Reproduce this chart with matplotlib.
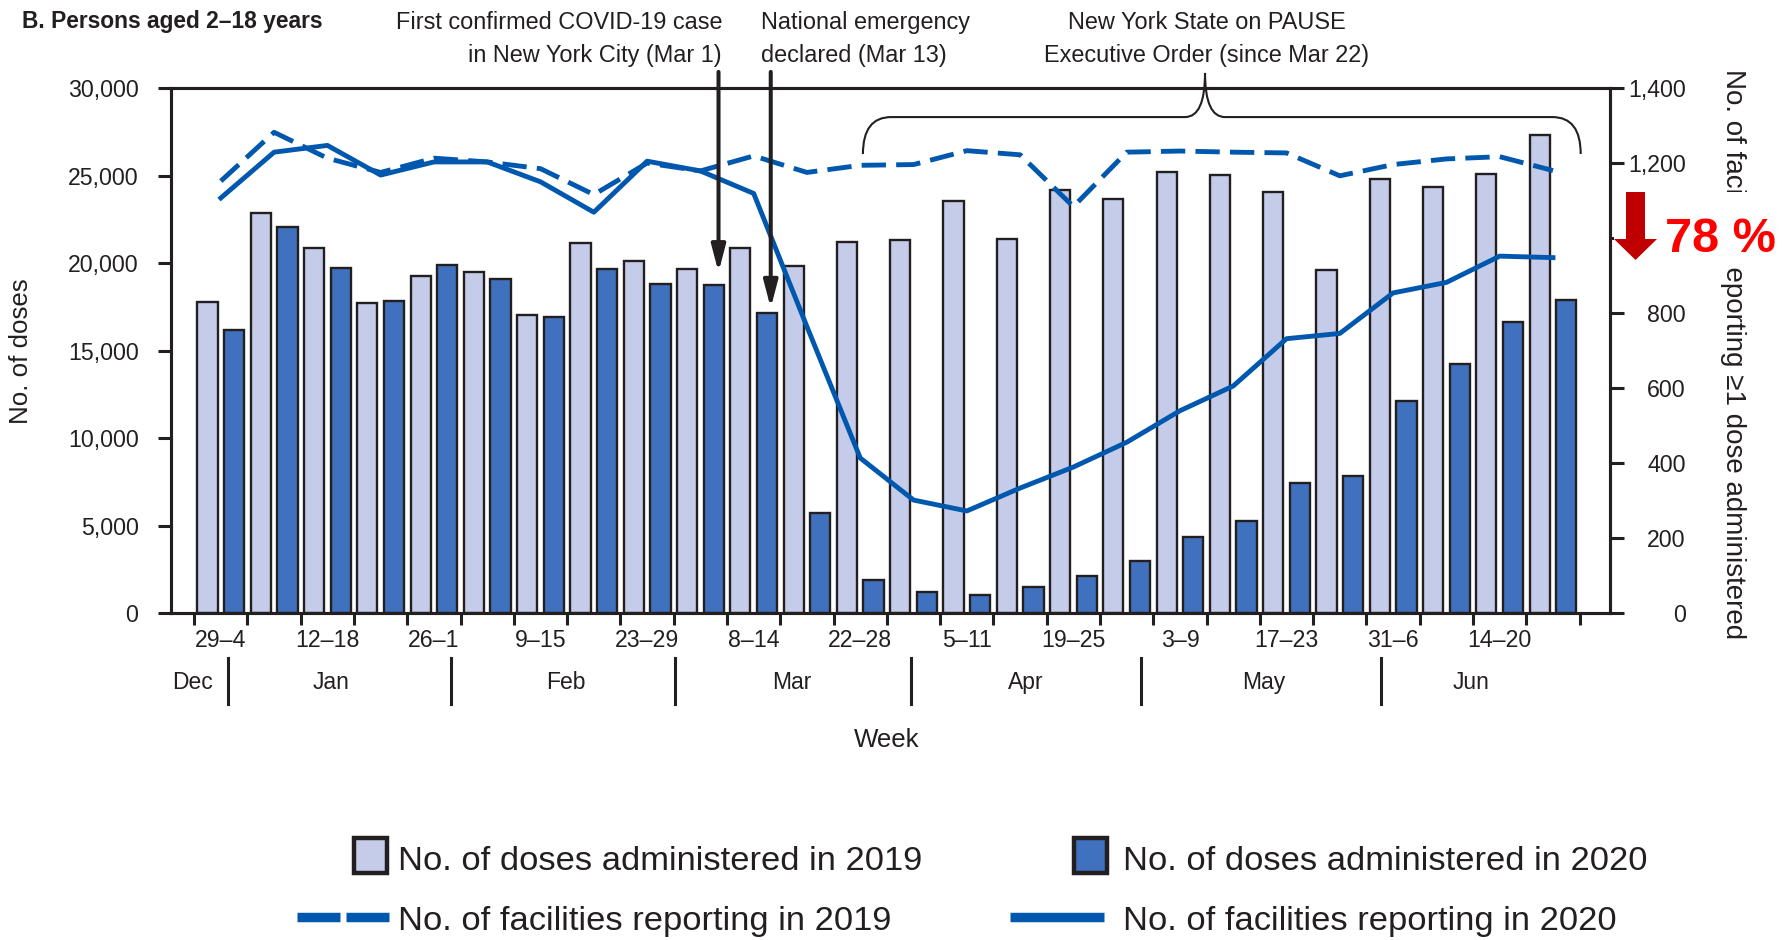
import numpy as np
import matplotlib
matplotlib.use("Agg")
import matplotlib.pyplot as plt
from matplotlib.path import Path
from matplotlib.patches import PathPatch, Rectangle, Polygon
from matplotlib.lines import Line2D
from matplotlib.ticker import FuncFormatter
from matplotlib.transforms import blended_transform_factory

plt.rcParams['font.family'] = ['Liberation Sans', 'DejaVu Sans']

# weeks from Dec 29 to Jun 27
week_labels = ["29–4", "5–11", "12–18", "19–25", "26–1", "2–8", "9–15", "16–22",
               "23–29", "1–7", "8–14", "15–21", "22–28", "29–4", "5–11", "12–18",
               "19–25", "26–2", "3–9", "10–16", "17–23", "24–30", "31–6", "7–13",
               "14–20", "21–27"]

doses_2019 = [17800, 22850, 20850, 17700, 19250, 19470, 17040, 21150, 20110, 19670,
              20870, 19850, 21210, 21310, 23520, 21370, 24180, 23660, 25190, 25050,
              24040, 19610, 24830, 24320, 25090, 27330]
doses_2020 = [16160, 22060, 19750, 17860, 19910, 19070, 16940, 19650, 18800, 18750,
              17140, 5760, 1910, 1200, 1040, 1490, 2150, 2990, 4355, 5300,
              7430, 7830, 12100, 14250, 16640, 17920]

facilities_2019 = [1152, 1282, 1213, 1175, 1213, 1203, 1185, 1116, 1200, 1179,
                   1219, 1175, 1194, 1196, 1233, 1222, 1084, 1229, 1232, 1229,
                   1227, 1166, 1196, 1211, 1217, 1180]
facilities_2020 = [1107, 1229, 1247, 1168, 1203, 1203, 1150, 1069, 1205, 1179,
                   1119, 764, 414, 302, 273, 334, 390, 456, 540, 606,
                   732, 746, 854, 882, 952, 948]

# month row under the week labels (positions in week units)
months = ["Dec", "Jan", "Feb", "Mar", "Apr", "May", "Jun"]
month_centers = [-0.54, 2.07, 6.47, 10.72, 15.11, 19.58, 23.47]
month_breaks = [0.14, 4.32, 8.52, 12.95, 17.27, 21.77]

LIGHT = '#c5cce9'
DARK = '#4071be'
BLUE = '#0058ae'
INK = '#231f20'

W, H = 1791, 940


def fx(px):
    return px / W


def fy(py):
    return 1 - py / H


fig = plt.figure(figsize=(W / 100, H / 100), dpi=100)
ax = fig.add_axes([fx(171), fy(613.4), (1610 - 171) / W, (613.4 - 88) / H])
ax2 = ax.twinx()

x = np.arange(len(week_labels))
ax.bar(x - 0.25, doses_2019, width=0.38, color=LIGHT, edgecolor=INK, linewidth=1.7, zorder=2)
ax.bar(x + 0.25, doses_2020, width=0.38, color=DARK, edgecolor=INK, linewidth=1.7, zorder=2)

ax2.plot(x, facilities_2019, color=BLUE, lw=3.5, dashes=(5, 2.1), zorder=3)
ax2.plot(x, facilities_2020, color=BLUE, lw=3.5, zorder=3)

ax.set_xlim(-0.935, 26.07)
ax.set_ylim(0, 30000)
ax2.set_ylim(0, 1400)

for a in (ax, ax2):
    for s in a.spines.values():
        s.set_linewidth(2.2)
        s.set_color(INK)

# left axis
ax.set_yticks(np.arange(0, 30001, 5000))
ax.yaxis.set_major_formatter(FuncFormatter(lambda v, p: f"{v:,.0f}"))
ax.tick_params(axis='y', direction='out', length=9.4, width=2.2, pad=14,
               labelsize=16.7, color=INK, labelcolor=INK)

# right axis, labels right-aligned
ax2.set_yticks(np.arange(0, 1401, 200))
ax2.yaxis.set_major_formatter(FuncFormatter(lambda v, p: f"{v:,.0f}"))
ax2.tick_params(axis='y', direction='out', length=10, width=2.2, pad=44.6,
                labelsize=16.7, color=INK, labelcolor=INK)
for lab in ax2.get_yticklabels():
    lab.set_ha('right')

# week ticks: marks between weeks, labels on every other week
ax.set_xticks(np.arange(-0.5, len(week_labels), 1))
ax.set_xticklabels([])
ax.set_xticks(x[::2], minor=True)
ax.set_xticklabels(week_labels[::2], minor=True)
ax.tick_params(axis='x', which='major', direction='out', length=8.6, width=2.2, color=INK)
ax.tick_params(axis='x', which='minor', length=0, pad=11, labelsize=16.7, labelcolor=INK)

trans = blended_transform_factory(ax.transData, ax.transAxes)
for name, mx in zip(months, month_centers):
    ax.text(mx, -0.1306, name, transform=trans, ha='center', va='center',
            fontsize=16.5, color=INK)
for bx in month_breaks:
    ax.add_line(Line2D([bx, bx], [-0.0849, -0.1724], transform=trans, color=INK,
                       lw=2.2, clip_on=False))

ax.text(0.4976, -0.241, "Week", transform=ax.transAxes, ha='center', va='center',
        fontsize=18.6, color=INK)

fig.text(fx(21), fy(351), "No. of doses", rotation=90, ha='center', va='center',
         fontsize=18.6, color=INK)
fig.text(fx(1733), fy(354), "No. of facilities reporting ≥1 dose administered",
         rotation=270, ha='center', va='center', fontsize=20, color=INK)

# title and event notes
fig.text(fx(22), fy(28), "B. Persons aged 2–18 years", fontsize=16.4,
         fontweight='bold', color=INK, va='baseline')

notes = [
    (["First confirmed COVID-19 case", "in New York City (Mar 1)"], 722, 'right'),
    (["National emergency", "declared (Mar 13)"], 761, 'left'),
    (["New York State on PAUSE", "Executive Order (since Mar 22)"], 1207, 'center'),
]
for lines, px, ha in notes:
    for line, base in zip(lines, [29, 62]):
        fig.text(fx(px), fy(base), line, ha=ha, va='baseline', fontsize=16.9, color=INK)

arrow_style = '-|>,head_length=1.6,head_width=0.42'
for ax_x, tip in [(9.34, 19480), (10.32, 17440)]:
    ax2.annotate('', xy=(ax_x, tip), xycoords=ax.transData,
                 xytext=(ax_x, 30920), textcoords=ax.transData,
                 arrowprops=dict(arrowstyle=arrow_style, mutation_scale=10, lw=2.9,
                                 color=INK, shrinkA=0, shrinkB=0),
                 annotation_clip=False, zorder=5)

# brace for the PAUSE period
xl, xr, xc = 12.05, 25.52, 18.47
yb, yh, yt = 26230, 28340, 30860
r, w = 0.53, 0.375
verts = [(xl, yb), (xl, yh), (xl + r, yh),
         (xc - w, yh), (xc, yh), (xc, yt),
         (xc, yh), (xc + w, yh),
         (xr - r, yh), (xr, yh), (xr, yb)]
codes = [Path.MOVETO, Path.CURVE3, Path.CURVE3,
         Path.LINETO, Path.CURVE3, Path.CURVE3,
         Path.CURVE3, Path.CURVE3,
         Path.LINETO, Path.CURVE3, Path.CURVE3]
ax2.add_patch(PathPatch(Path(verts, codes), transform=ax.transData, fill=False,
                        lw=1.5, edgecolor=INK, clip_on=False, zorder=5))

# legend, drawn by hand
fig.add_artist(Rectangle((fx(354), fy(873)), 33 / W, 35 / H, transform=fig.transFigure,
                         facecolor=LIGHT, edgecolor=INK, lw=3.2))
fig.add_artist(Rectangle((fx(1074), fy(873)), 33 / W, 35 / H, transform=fig.transFigure,
                         facecolor=DARK, edgecolor=INK, lw=3.2))
fig.add_artist(Line2D([fx(297), fx(389)], [fy(917), fy(917)], transform=fig.transFigure,
                      color=BLUE, lw=6.8, dashes=(4.55, 0.64)))
fig.add_artist(Line2D([fx(1010), fx(1104)], [fy(917), fy(917)], transform=fig.transFigure,
                      color=BLUE, lw=6.8, solid_capstyle='butt'))
legend_items = [("No. of doses administered in 2019", 398, 870),
                ("No. of doses administered in 2020", 1123, 870),
                ("No. of facilities reporting in 2019", 398, 930),
                ("No. of facilities reporting in 2020", 1123, 930)]
for label, px, base in legend_items:
    fig.text(fx(px), fy(base), label, va='baseline', fontsize=24.8, color=INK)

# 78 % drop callout (covers the 1,000 label like the original)
fig.add_artist(Rectangle((fx(1614), fy(268)), 171 / W, 76 / H, transform=fig.transFigure,
                         facecolor='white', edgecolor='none', zorder=5))
arrow_px = [(1626, 192), (1645, 192), (1645, 239), (1657, 239), (1635.5, 260),
            (1614, 239), (1626, 239)]
fig.add_artist(Polygon([(fx(a), fy(b)) for a, b in arrow_px], closed=True,
                       transform=fig.transFigure, facecolor='#c00000',
                       edgecolor='none', zorder=6))
fig.text(fx(1665), fy(252), "78 %", color='#ff0000', fontweight='bold', fontsize=35,
         va='baseline', zorder=6)

fig.savefig("out.png", dpi=100)
